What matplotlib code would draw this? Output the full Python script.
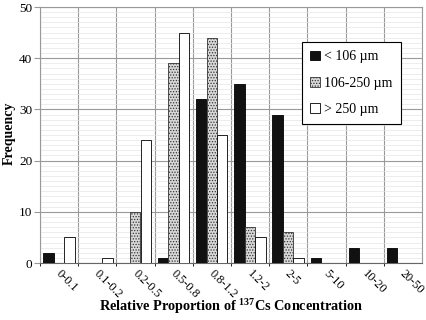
import matplotlib.pyplot as plt
import numpy as np
from matplotlib.patches import Patch

plt.rcParams['font.family'] = 'Liberation Serif'
plt.rcParams['mathtext.fontset'] = 'custom'
plt.rcParams['mathtext.rm'] = 'Liberation Serif'
plt.rcParams['mathtext.bf'] = 'Liberation Serif:bold'
plt.rcParams['hatch.linewidth'] = 0.6

categories = ['0-0.1', '0.1-0.2', '0.2-0.5', '0.5-0.8', '0.8-1.2',
              '1.2-2', '2-5', '5-10', '10-20', '20-50']
fine = [2, 0, 0, 1, 32, 35, 29, 1, 3, 3]        # < 106 um
medium = [0, 0, 10, 39, 44, 7, 6, 0, 0, 0]      # 106-250 um
coarse = [5, 1, 24, 45, 25, 5, 1, 0, 0, 0]      # > 250 um
labels = ['< 106 \u00b5m', '106-250 \u00b5m', '> 250 \u00b5m']

fig = plt.figure(figsize=(4.27, 3.20), dpi=100)
ax = fig.add_axes([40/427, 1 - 263/320, 382/427, 256/320])

x = np.arange(len(categories))
w = 0.27
ax.bar(x + 0.22, fine, w, color='#111111', edgecolor='black', linewidth=0.6, zorder=3)
ax.bar(x + 0.495, medium, w, color='#d8d8d8', edgecolor='#333333', hatch='......',
       linewidth=0.6, zorder=3)
ax.bar(x + 0.77, coarse, w, color='white', edgecolor='black', linewidth=0.6, zorder=3)

ax.set_xlim(0, len(categories))
ax.set_ylim(0, 50)
ax.set_yticks(range(0, 51, 10))
ax.set_yticks(range(0, 51, 1), minor=True)
ax.yaxis.grid(True, which='minor', color='#e6e6e6', linewidth=0.5, zorder=0)
ax.yaxis.grid(True, which='major', color='#999999', linewidth=0.8, zorder=1)
ax.set_xticks(x, minor=True)
ax.xaxis.grid(True, which='minor', color='#999999', linewidth=0.8, zorder=1)
ax.set_xticks(x + 0.5)
ax.set_xticklabels([])
for xi, lab in zip(x, categories):
    ax.text(xi + 0.58, -1.0, lab, rotation=-45, ha='left', va='top',
            rotation_mode='anchor', fontsize=8.8)
ax.tick_params(axis='x', length=0)
ax.tick_params(axis='y', which='major', length=4.5, color='#999999', labelsize=9.5, pad=1)
ax.tick_params(axis='y', which='minor', length=0)
for s in ['top', 'right', 'left']:
    ax.spines[s].set_color('#999999')
ax.spines['bottom'].set_color('#666666')

fig.text(9/427, 1 - 133/320, 'Frequency', rotation=90, ha='center', va='center',
         fontsize=10, fontweight='bold')
fig.text(231/427, 1 - 306/320, r'Relative Proportion of $^{\mathbf{137}}$Cs Concentration',
         ha='center', va='center', fontsize=10.3, fontweight='bold')

handles = [Patch(facecolor='#111111', edgecolor='black', linewidth=0.6),
           Patch(facecolor='#d8d8d8', edgecolor='#333333', hatch='......', linewidth=0.6),
           Patch(facecolor='white', edgecolor='black', linewidth=0.6)]
leg = ax.legend(handles, labels, loc='upper left', bbox_to_anchor=(262/382, 1 - 35/256),
                fontsize=10, frameon=True, fancybox=False, framealpha=1,
                edgecolor='black', handlelength=0.7, handleheight=0.7,
                handletextpad=0.3, labelspacing=0.95, borderpad=0.6, borderaxespad=0)
leg.get_frame().set_linewidth(0.8)
leg.set_zorder(5)

fig.savefig('out.png', dpi=100)
